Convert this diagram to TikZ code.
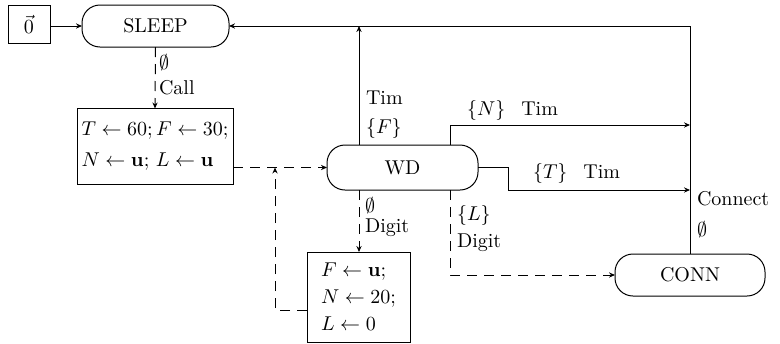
\documentclass[tikz,border=0pt]{standalone}
\usetikzlibrary{arrows.meta}
\begin{document}
\begin{tikzpicture}[x=0.5pt,y=-0.5pt,
  every node/.style={inner sep=0pt,outer sep=0pt},
  sq/.style={draw,line width=0.5pt,rectangle},
  rnd/.style={draw,line width=0.5pt,rectangle,rounded corners=9pt},
  lbl/.style={anchor=west},
  ln/.style={line width=0.5pt,-{Stealth[length=3pt,width=2.6pt]}},
  dln/.style={ln,dash pattern=on 5pt off 3.5pt}]
\useasboundingbox (0,0) rectangle (780,343);
% nodes
\node[sq,minimum width=21pt,minimum height=19pt] (zero) at (29,24) {$\vec{0}$};
\node[rnd,minimum width=73.5pt,minimum height=21pt] (sleep) at (155.5,26) {SLEEP};
\node[sq,minimum width=78pt,minimum height=38pt,align=left] (b1) at (155,146.5)
  {$T\leftarrow60;F\leftarrow30;$\\[3.5pt]$N\leftarrow\mathbf{u};\,L\leftarrow\mathbf{u}$};
\node[rnd,minimum width=75.5pt,minimum height=22.5pt] (wd) at (402.5,167.5) {WD};
\node[sq,minimum width=51.5pt,minimum height=45pt,align=left] (b2) at (358.5,297)
  {$F\leftarrow\mathbf{u};$\\[1.5pt]$N\leftarrow20;$\\[1.5pt]$L\leftarrow0$};
\node[rnd,minimum width=75pt,minimum height=21pt] (conn) at (690,275) {CONN};
% coordinates
\coordinate (wdl) at (359,145);
\coordinate (wdr) at (450,145);
\coordinate (wdbl) at (359,190);
\coordinate (wdbr) at (450,190);
\coordinate (nup) at (450,125);
\coordinate (tstep) at (508,167.5);
\coordinate (tlow) at (508,190);
\coordinate (j1) at (275,167.5);
\coordinate (j2) at (275,310);
% solid connectors
\draw[ln] (zero.east |- sleep.west) -- (sleep.west);
\draw[ln] (conn.north) -- (conn.north |- sleep.east) -- (sleep.east);
\draw[ln] (wdl) -- (wdl |- sleep.east);
\draw[ln] (wdr) -- (nup) -- (conn.north |- nup);
\draw[ln] (wd.east) -- (tstep) -- (tlow) -- (conn.north |- tlow);
% dashed connectors
\draw[dln] (sleep.south) -- (b1.north);
\draw[dln] (b1.east |- wd.west) -- (wd.west);
\draw[dln] (b2.west |- j2) -- (j2) -- (j1);
\draw[dln] (wdbl) -- (wdbl |- b2.north);
\draw[dln] (wdbr) |- (conn.west);
% labels
\node[lbl] at (159,63) {$\emptyset$};
\node[lbl] at (159,88) {Call};
\node[lbl] at (366,98) {Tim};
\node[lbl] at (366,128) {$\{F\}$};
\node[lbl] at (467,110) {$\{N\}$\hspace{8pt}Tim};
\node[lbl] at (533,173) {$\{T\}$\hspace{8pt}Tim};
\node[lbl] at (697,199) {Connect};
\node[lbl] at (697,230) {$\emptyset$};
\node[lbl] at (365,206) {$\emptyset$};
\node[lbl] at (365,228) {Digit};
\node[lbl] at (457,215) {$\{L\}$};
\node[lbl] at (457,243) {Digit};
\end{tikzpicture}
\end{document}
